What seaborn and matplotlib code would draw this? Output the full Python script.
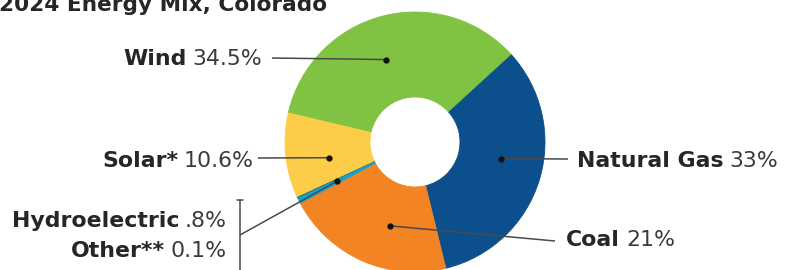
import matplotlib
matplotlib.use("Agg")
import matplotlib.pyplot as plt
import numpy as np
import seaborn as sns

# data, clockwise from the upper right
sources = ["Natural Gas", "Coal", "Hydroelectric", "Other**", "Solar*", "Wind"]
shares = [33, 21, 0.8, 0.1, 10.6, 34.5]
share_labels = ["33%", "21%", ".8%", "0.1%", "10.6%", "34.5%"]
slice_colors = ["#0b4f8c", "#f28424", "#1aa3c8", "#0d5a78", "#fdcd4a", "#80c241"]
title = "2024 Energy Mix, Colorado"

sns.set_theme(style="white")
plt.rcParams["font.family"] = ["DejaVu Sans"]

fig = plt.figure(figsize=(7.85, 2.70), dpi=100)
ax = fig.add_axes([0, 0, 1, 1])

cx, cy, R, hole = 415, 142, 130, 45
# y axis runs downward (pixel coords), so counterclock=True draws clockwise on screen
wedges, _ = ax.pie(shares, colors=sns.color_palette(slice_colors), startangle=-42.5,
                   counterclock=True, center=(cx, cy), radius=R,
                   wedgeprops=dict(width=R - hole, linewidth=0.6))
for w in wedges:
    w.set_edgecolor(w.get_facecolor())
ax.set_xlim(0, 785)
ax.set_ylim(270, 0)
ax.set_aspect("auto")
ax.axis("off")

# layout: where along each wedge the dot sits, leader end, text anchor
layout = {
    "Natural Gas": dict(frac=0.45, end=(568, 159), side="right", anchor=(577, 167)),
    "Coal": dict(frac=0.40, end=(555, 241), side="right", anchor=(566, 246)),
    "Hydroelectric": dict(frac=0.5, end=(240, 235), side="left", anchor=(227, 227)),
    "Other**": dict(frac=None, end=None, side="left", anchor=(227, 257)),
    "Solar*": dict(frac=0.38, end=(258, 158), side="left", anchor=(254, 167)),
    "Wind": dict(frac=0.46, end=(272, 58), side="left", anchor=(262, 65)),
}

rmid = (R + hole) / 2
fs = 15.8
renderer = fig.canvas.get_renderer()

for w, name, lab in zip(wedges, sources, share_labels):
    L = layout[name]
    if L["frac"] is not None:
        ang = np.deg2rad(w.theta1 + L["frac"] * (w.theta2 - w.theta1))
        dx, dy = cx + rmid * np.cos(ang), cy + rmid * np.sin(ang)
        ex, ey = L["end"]
        ax.plot([dx, ex], [dy, ey], color="#4a4a4a", lw=1.1, solid_capstyle="butt")
        ax.plot(dx, dy, "o", color="#111111", ms=3.5)
    x, y = L["anchor"]
    if L["side"] == "right":
        t1 = ax.text(x, y, name, fontsize=fs, fontweight="bold", color="#262626",
                     ha="left", va="baseline")
        wpx = t1.get_window_extent(renderer).width
        ax.text(x + wpx + 6, y, lab, fontsize=fs, color="#3a3a3a", ha="left", va="baseline")
    else:
        t2 = ax.text(x, y, lab, fontsize=fs, color="#3a3a3a", ha="right", va="baseline")
        wpx = t2.get_window_extent(renderer).width
        ax.text(x - wpx - 6, y, name, fontsize=fs, fontweight="bold", color="#262626",
                ha="right", va="baseline")

# bracket for the two small slices
ax.plot([240, 240], [200, 272], color="#4a4a4a", lw=1.1)
ax.plot([237, 243], [200, 200], color="#4a4a4a", lw=1.1)

ax.text(-1, 11, title, fontsize=fs - 0.2, fontweight="bold", color="#262626",
        ha="left", va="baseline")

fig.savefig("out.png", dpi=100, facecolor="white")
